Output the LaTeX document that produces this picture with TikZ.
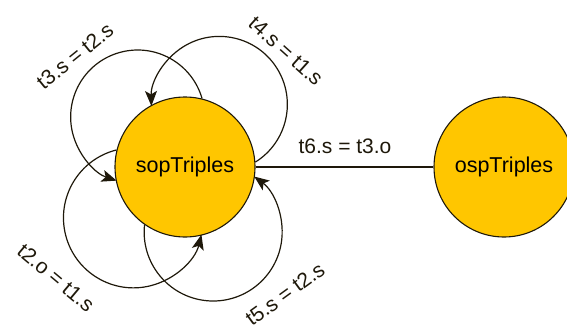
\documentclass[tikz,border=0pt]{standalone}
\usepackage{fontspec}
\setmainfont{Liberation Sans}
\usetikzlibrary{arrows.meta}

\definecolor{tablefill}{RGB}{255,198,0}
\definecolor{inkline}{RGB}{30,24,10}

\tikzset{
  table/.style={circle, draw=inkline, fill=tablefill, line width=1.1pt,
    minimum size=140pt, inner sep=0pt, font=\fontsize{21.5}{24}\selectfont},
  joinline/.style={draw=inkline, line width=1.2pt},
  selfjoin/.style={joinline, -{Stealth[length=15pt,width=12pt,inset=3.5pt]}},
  cond/.style={font=\fontsize{21}{24}\selectfont, text=inkline, inner sep=0pt}
}

\begin{document}
\begin{tikzpicture}[x=1pt,y=1pt]
  \useasboundingbox (0,0) rectangle (567,333);

  % the two triple tables
  \node[table] (sop) at (185,166) {sopTriples};
  \node[table] (osp) at (504,166) {ospTriples};

  % join between the tables
  \draw[joinline] (sop.east) -- (osp.west);
  \node[cond] (l6) at (345,187) {t6.s = t3.o};

  % self joins on sopTriples
  \draw[selfjoin] (sop.76)  arc[start angle=16,  end angle=251.7, radius=67];
  \draw[selfjoin] (sop.4)   arc[start angle=-58, end angle=181.3, radius=68];
  \draw[selfjoin] (sop.166) arc[start angle=104, end angle=346.1, radius=70];
  \draw[selfjoin] (sop.235) arc[start angle=174, end angle=413.5, radius=69];

  % join conditions of the self joins
  \node[cond, rotate=39]  (l3) at (75,277) {t3.s = t2.s};
  \node[cond, rotate=-42] (l4) at (286,282) {t4.s = t1.s};
  \node[cond, rotate=-40] (l2) at (56,55)  {t2.o = t1.s};
  \node[cond, rotate=36]  (l5) at (285,39) {t5.s = t2.s};
\end{tikzpicture}
\end{document}
